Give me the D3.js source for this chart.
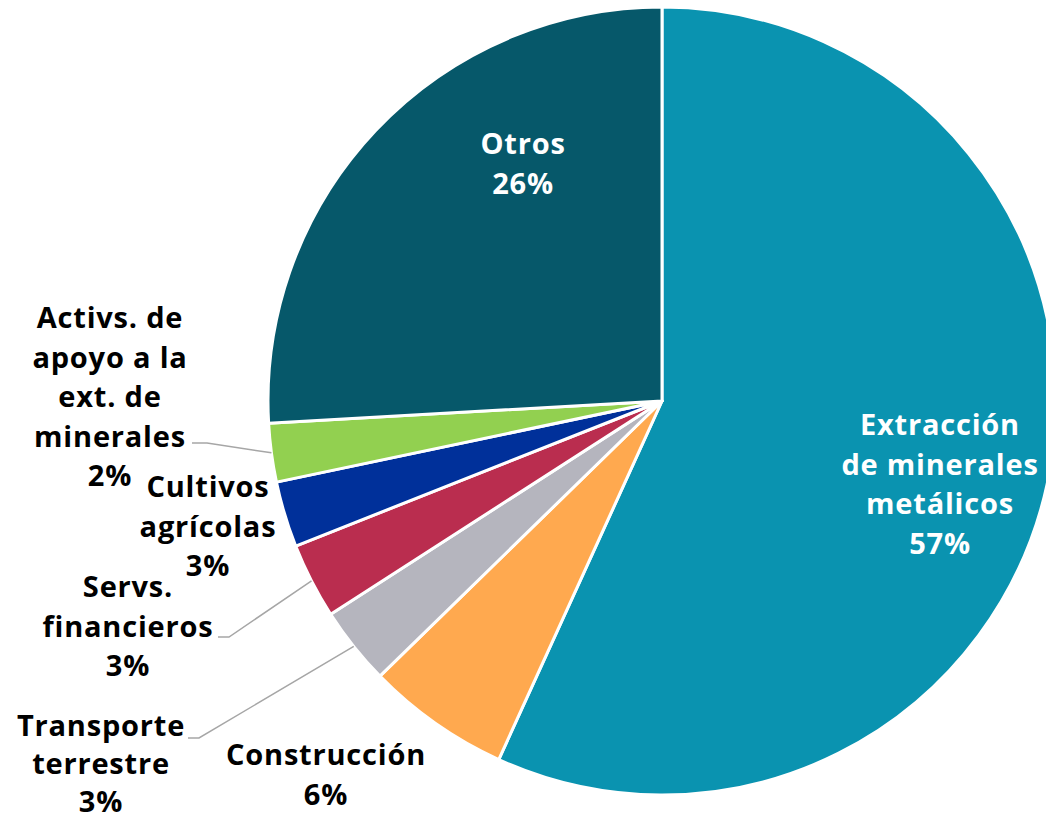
<!DOCTYPE html>
<html>
<head>
<meta charset="utf-8">
<script src="https://cdn.jsdelivr.net/npm/d3@7"></script>
<style>
  body { margin: 0; background: #fff; }
  svg { display: block; }
  text { font-family: "Open Sans", "Lato", sans-serif; font-weight: 700; }
</style>
</head>
<body>
<div id="chart"></div>
<script>
// Sector shares (%), clockwise from 12 o'clock
const categories = [
    'Extracción de minerales metálicos',
    'Construcción',
    'Transporte terrestre',
    'Servs. financieros',
    'Cultivos agrícolas',
    'Activs. de apoyo a la ext. de minerales',
    'Otros'
];
const shares = [56.8, 5.9, 3.2, 3.1, 2.7, 2.4, 25.9];
const colors = ['#0A93B0', '#FFA94F', '#B5B5BE', '#BA2D4F', '#00309A', '#92D050', '#06586A'];

// Label text lines (as written on the chart)
const labelLines = [
    ['Extracción', 'de minerales', 'metálicos'],
    ['Construcción'],
    ['Transporte', 'terrestre'],
    ['Servs.', 'financieros'],
    ['Cultivos', 'agrícolas'],
    ['Activs. de', 'apoyo a la', 'ext. de', 'minerales'],
    ['Otros']
];

const width = 1046, height = 821;
const cx = 662, cy = 401, radius = 394;
const LINE_H = 39.5;

// Manual label placement (first line centre), like the spreadsheet layout
const labelLayout = [
    { x: 940, y: 425, fill: '#fff' },
    { x: 326, y: 755, fill: '#000' },
    { x: 101, y: 726, fill: '#000', lh: 38, leader: [199, 738, 188] },
    { x: 128, y: 587, fill: '#000', leader: [229, 637, 218] },
    { x: 208, y: 487, fill: '#000' },
    { x: 110, y: 318, fill: '#000', leader: [207, 443, 192] },
    { x: 523, y: 144, fill: '#fff' }
];

const svg = d3.select('#chart').append('svg')
    .attr('width', width)
    .attr('height', height);

const g = svg.append('g')
    .attr('transform', `translate(${cx},${cy})`);

const pie = d3.pie().sort(null).value(d => d.value);
const arc = d3.arc().innerRadius(0).outerRadius(radius);

const data = categories.map((c, i) => ({ name: c, value: shares[i], i }));
const arcs = pie(data);

// Slices
g.selectAll('path.slice')
    .data(arcs)
    .enter()
    .append('path')
    .attr('class', 'slice')
    .attr('d', arc)
    .attr('fill', d => colors[d.data.i])
    .attr('stroke', '#fff')
    .attr('stroke-width', 3)
    .attr('stroke-linejoin', 'round');

// Leader lines
arcs.forEach(d => {
    const lay = labelLayout[d.data.i];
    if (!lay.leader) return;
    const mid = (d.startAngle + d.endAngle) / 2;
    const px = cx + radius * Math.sin(mid);
    const py = cy - radius * Math.cos(mid);
    const [ex, ey, ex2] = lay.leader;
    svg.append('polyline')
        .attr('points', `${px},${py} ${ex},${ey} ${ex2},${ey}`)
        .attr('fill', 'none')
        .attr('stroke', '#a6a6a6')
        .attr('stroke-width', 1.5);
});

// Labels
arcs.forEach(d => {
    const lay = labelLayout[d.data.i];
    const lh = lay.lh || LINE_H;
    const lines = labelLines[d.data.i].concat([Math.round(d.data.value) + '%']);
    const text = svg.append('text')
        .attr('text-anchor', 'middle')
        .attr('fill', lay.fill)
        .attr('font-size', '29px')
        .attr('letter-spacing', '0.8px');
    lines.forEach((ln, k) => {
        text.append('tspan')
            .attr('x', lay.x)
            .attr('y', lay.y + k * lh)
            .attr('dy', '0.35em')
            .text(ln);
    });
});
</script>
</body>
</html>
